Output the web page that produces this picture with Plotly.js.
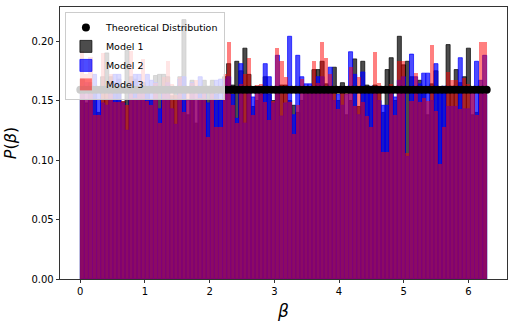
<!DOCTYPE html>
<html>
<head>
<meta charset="utf-8">
<script src="https://cdn.plot.ly/plotly-3.0.1.min.js"></script>
<style>
  html, body { margin: 0; padding: 0; background: #fff; }
  #chart { width: 513px; height: 329px; }
</style>
</head>
<body>
<div id="chart"></div>
<script>
// 100 equal bins over [0, 2*pi]
var binCount = 100;
var betaMax = 2 * Math.PI;

// normalised bin heights
var model1 = [
  0.168, 0.148, 0.165, 0.160, 0.140, 0.170, 0.190, 0.170, 0.165, 0.168,
  0.149, 0.192, 0.170, 0.168, 0.160, 0.165, 0.160, 0.150, 0.171, 0.172,
  0.172, 0.170, 0.154, 0.156, 0.170, 0.218, 0.138, 0.167, 0.131, 0.160,
  0.167, 0.162, 0.167, 0.155, 0.150, 0.170, 0.181, 0.163, 0.183, 0.175,
  0.194, 0.172, 0.145, 0.150, 0.155, 0.170, 0.155, 0.150, 0.160, 0.163,
  0.163, 0.150, 0.146, 0.140, 0.150, 0.158, 0.160, 0.176, 0.176, 0.183,
  0.164, 0.160, 0.178, 0.150, 0.165, 0.138, 0.150, 0.185, 0.145, 0.183,
  0.163, 0.160, 0.163, 0.160, 0.140, 0.176, 0.186, 0.150, 0.204, 0.180,
  0.183, 0.170, 0.160, 0.167, 0.160, 0.138, 0.164, 0.175, 0.158, 0.160,
  0.197, 0.162, 0.176, 0.165, 0.170, 0.194, 0.138, 0.140, 0.160, 0.155
];
var model2 = [
  0.160, 0.165, 0.158, 0.172, 0.160, 0.148, 0.146, 0.160, 0.172, 0.172,
  0.148, 0.125, 0.165, 0.172, 0.172, 0.160, 0.172, 0.167, 0.165, 0.143,
  0.160, 0.165, 0.143, 0.130, 0.168, 0.170, 0.150, 0.165, 0.160, 0.170,
  0.160, 0.148, 0.160, 0.167, 0.168, 0.168, 0.170, 0.155, 0.135, 0.181,
  0.131, 0.160, 0.153, 0.158, 0.160, 0.181, 0.170, 0.148, 0.188, 0.137,
  0.148, 0.204, 0.138, 0.188, 0.170, 0.164, 0.164, 0.160, 0.170, 0.170,
  0.160, 0.178, 0.150, 0.155, 0.146, 0.155, 0.191, 0.172, 0.138, 0.174,
  0.160, 0.162, 0.158, 0.150, 0.146, 0.146, 0.158, 0.153, 0.167, 0.170,
  0.103, 0.189, 0.170, 0.164, 0.173, 0.173, 0.150, 0.181, 0.161, 0.162,
  0.145, 0.145, 0.145, 0.186, 0.143, 0.143, 0.158, 0.183, 0.167, 0.188
];
var model3 = [
  0.192, 0.172, 0.187, 0.138, 0.138, 0.190, 0.160, 0.172, 0.149, 0.149,
  0.150, 0.146, 0.192, 0.152, 0.162, 0.185, 0.150, 0.146, 0.165, 0.131,
  0.170, 0.183, 0.164, 0.155, 0.170, 0.140, 0.161, 0.165, 0.167, 0.152,
  0.158, 0.119, 0.158, 0.128, 0.128, 0.172, 0.199, 0.146, 0.131, 0.164,
  0.172, 0.186, 0.138, 0.163, 0.164, 0.149, 0.134, 0.150, 0.194, 0.183,
  0.170, 0.149, 0.122, 0.146, 0.168, 0.160, 0.158, 0.183, 0.165, 0.199,
  0.186, 0.172, 0.162, 0.143, 0.162, 0.157, 0.178, 0.145, 0.170, 0.149,
  0.137, 0.128, 0.191, 0.165, 0.107, 0.107, 0.164, 0.138, 0.183, 0.183,
  0.106, 0.150, 0.173, 0.149, 0.152, 0.150, 0.197, 0.141, 0.097, 0.128,
  0.174, 0.167, 0.167, 0.143, 0.169, 0.164, 0.156, 0.138, 0.199, 0.199
];

// uniform density 1/(2*pi)
var theoryDensity = 0.159;

var binWidth = betaMax / binCount;
var centers = [], edges = [], theory = [];
for (var i = 0; i < binCount; i++) centers.push((i + 0.5) * binWidth);
for (var j = 0; j <= binCount; j++) { edges.push(j * binWidth); theory.push(theoryDensity); }

function histTrace(name, ys, rgba, edge) {
  return {
    type: 'bar',
    name: name,
    x: centers,
    y: ys,
    width: binWidth,
    marker: { color: rgba, line: { color: rgba, width: edge } }
  };
}

var data = [
  {
    type: 'scatter',
    mode: 'markers',
    name: 'Theoretical Distribution',
    x: edges,
    y: theory,
    marker: { color: 'black', size: 8 }
  },
  histTrace('Model 1', model1, 'rgba(0,0,0,0.7)', 1),
  histTrace('Model 2', model2, 'rgba(0,0,255,0.7)', 1),
  histTrace('Model 3', model3, 'rgba(255,0,0,0.5)', 0)
];

var axisFont = { family: 'DejaVu Sans', size: 10, color: '#000' };

var layout = {
  width: 513,
  height: 329,
  margin: { l: 60, r: 6, t: 7, b: 50 },
  paper_bgcolor: '#fff',
  plot_bgcolor: '#fff',
  barmode: 'overlay',
  bargap: 0,
  font: axisFont,
  showlegend: true,
  legend: {
    x: 0.011, y: 0.982, xanchor: 'left', yanchor: 'top',
    bgcolor: 'rgba(255,255,255,0.8)',
    bordercolor: '#cccccc',
    borderwidth: 1,
    itemwidth: 30,
    font: { family: 'DejaVu Sans', size: 9.5, color: '#000' },
    tracegroupgap: 0
  },
  xaxis: {
    range: [-0.314, 6.597],
    tickvals: [0, 1, 2, 3, 4, 5, 6],
    ticks: 'outside', ticklen: 3.5, tickwidth: 0.8, tickcolor: '#000',
    showgrid: false, zeroline: false,
    showline: true, linecolor: '#000', linewidth: 0.8, mirror: true,
    tickfont: axisFont,
    title: { text: '<i>β</i>', font: { family: 'DejaVu Sans', size: 17, color: '#000' }, standoff: 8 }
  },
  yaxis: {
    range: [0, 0.2286],
    tickvals: [0, 0.05, 0.10, 0.15, 0.20],
    tickformat: '.2f',
    ticks: 'outside', ticklen: 3.5, tickwidth: 0.8, tickcolor: '#000',
    showgrid: false, zeroline: false,
    showline: true, linecolor: '#000', linewidth: 0.8, mirror: true,
    tickfont: axisFont,
    title: { text: '<i>P</i>(<i>β</i>)', font: { family: 'DejaVu Sans', size: 16, color: '#000' }, standoff: 10 }
  }
};

Plotly.newPlot('chart', data, layout, { displayModeBar: false, staticPlot: true });
</script>
</body>
</html>
